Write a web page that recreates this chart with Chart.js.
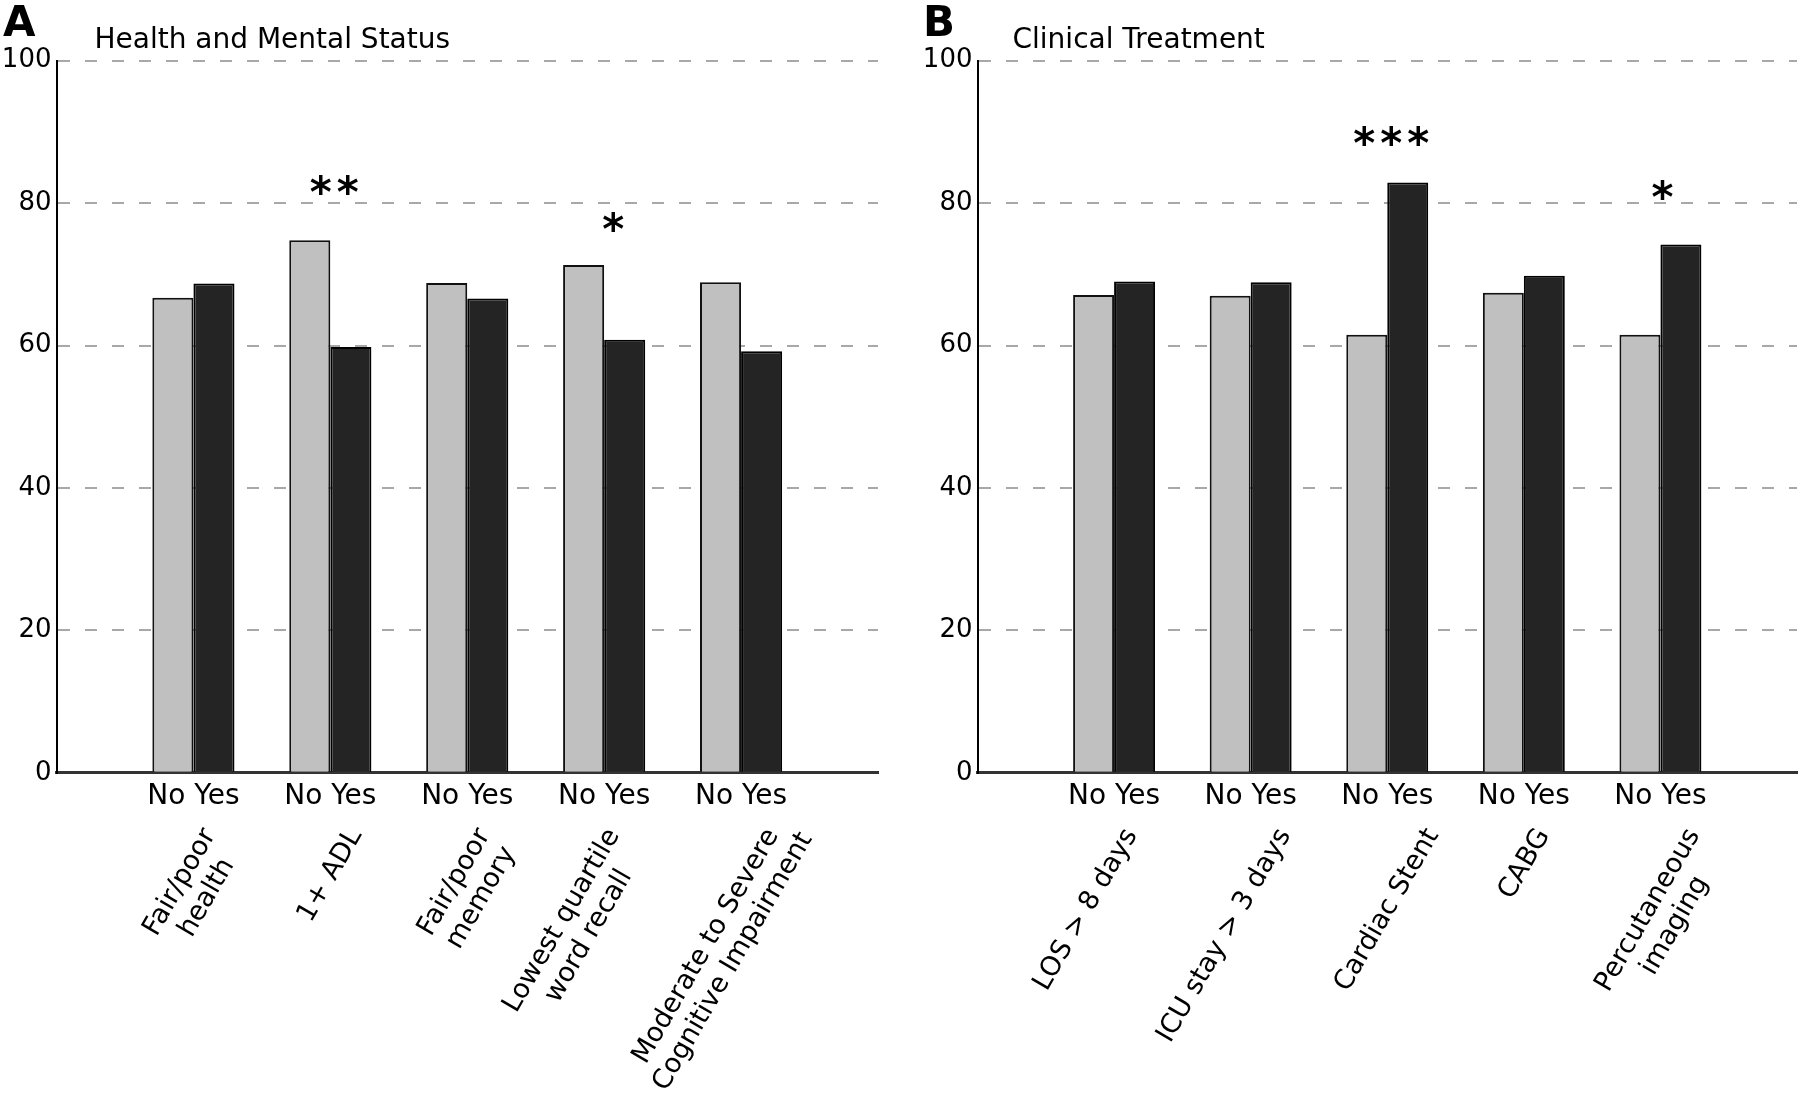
<!DOCTYPE html>
<html><head><meta charset="utf-8">
<script src="https://cdn.jsdelivr.net/npm/chart.js@4.4.1/dist/chart.umd.min.js"></script>
<style>
html,body{margin:0;padding:0;background:#fff;overflow:hidden;width:1800px;height:1111px;position:relative;}
canvas{position:absolute;top:0;}
#cA{left:0px} #cB{left:900px}
</style></head><body>
<canvas id="cA" width="900" height="1111"></canvas>
<canvas id="cB" width="920" height="1111"></canvas>
<script>
// ---- data ----
const seriesNames = ['No', 'Yes'];
const groupLabelsA = ['Fair/poor\nhealth', '1+ ADL', 'Fair/poor\nmemory', 'Lowest quartile\nword recall', 'Moderate to Severe\nCognitive Impairment'];
const noValuesA  = [66.7, 74.8, 68.8, 71.3, 68.9];
const yesValuesA = [68.7, 59.8, 66.6, 60.8, 59.2];
const sigA       = ['', '**', '', '*', ''];
const sigLevelA  = [null, 82.3, null, 77.0, null];
const groupLabelsB = ['LOS > 8 days', 'ICU stay > 3 days', 'Cardiac Stent', 'CABG', 'Percutaneous\nimaging'];
const noValuesB  = [67.1, 67.0, 61.5, 67.4, 61.5];
const yesValuesB = [69.0, 68.9, 82.9, 69.8, 74.2];
const sigB       = ['', '', '***', '', '*'];
const sigLevelB  = [null, null, 89.2, null, 81.5];
const yMin = 0, yMax = 100, yStep = 20;
const panelLetters = ['A', 'B'];
const panelTitles = ['Health and Mental Status', 'Clinical Treatment'];

// ---- drawing ----
const FONT = "'DejaVu Sans', 'Liberation Sans', sans-serif";
function pad(arr, fill) { return [fill, ...arr, fill]; }

const annotPlugin = {
  id: 'annot',
  afterDraw(chart, args, o) {
    const ctx = chart.ctx, xs = chart.scales.x, ys = chart.scales.y;
    ctx.save();
    ctx.fillStyle = '#000';
    ctx.textBaseline = 'alphabetic';
    ctx.textAlign = 'left';
    ctx.font = `bold 42px ${FONT}`;
    ctx.fillText(o.letter, o.letterX, 36);
    ctx.font = `28px ${FONT}`;
    ctx.fillText(o.title, chart.chartArea.left + o.titleDX, 48);

    // significance stars (ink centred on the given level)
    ctx.font = `bold 42px ${FONT}`;
    ctx.textAlign = 'center';
    o.sig.forEach((s, i) => {
      if (!s || o.sigLevel[i] == null) return;
      const cx = xs.getPixelForValue(i + 1) + (o.starDX[i] || 0);
      const py = ys.getPixelForValue(o.sigLevel[i]);
      const n = s.length;
      for (let k = 0; k < n; k++) {
        ctx.fillText('*', cx + (k - (n - 1) / 2) * 27, py + 20);
      }
    });

    // rotated group labels
    ctx.font = `27px ${FONT}`;
    const ang = -Math.PI / 3, lh = 31, inkH = 20;
    const c = Math.cos(ang), sn = Math.sin(ang);
    o.labels.forEach((lab, i) => {
      const lines = lab.split('\n'), n = lines.length;
      const ws = lines.map(l => ctx.measureText(l).width);
      let minX = Infinity, maxX = -Infinity, minY = Infinity;
      lines.forEach((l, j) => {
        const ly = (j - (n - 1) / 2) * lh;
        for (const dx of [-ws[j] / 2, ws[j] / 2]) for (const dy of [-inkH / 2, inkH / 2]) {
          const X = dx * c - (ly + dy) * sn, Y = dx * sn + (ly + dy) * c;
          minX = Math.min(minX, X); maxX = Math.max(maxX, X); minY = Math.min(minY, Y);
        }
      });
      const gx = xs.getPixelForValue(i + 1) + (o.nudge[i] || 0);
      const cx = gx - (minX + maxX) / 2, cy = o.labelTop - minY;
      ctx.save();
      ctx.translate(cx, cy);
      ctx.rotate(ang);
      ctx.textAlign = 'center';
      ctx.textBaseline = 'middle';
      lines.forEach((l, j) => ctx.fillText(l, 0, (j - (n - 1) / 2) * lh));
      ctx.restore();
    });
    ctx.restore();
  }
};

function makePanel(id, idx, labels, noVals, yesVals, sig, sigLevel, axisW, padRight, nudge, starDX) {
  const cats = pad(labels, '');
  const last = cats.length - 1;
  return new Chart(document.getElementById(id), {
    type: 'bar',
    data: {
      labels: cats,
      datasets: [
        { label: seriesNames[0], data: pad(noVals, null), backgroundColor: '#c0c0c0', borderColor: '#111', borderWidth: 2, borderSkipped: 'bottom' },
        { label: seriesNames[1], data: pad(yesVals, null), backgroundColor: '#242424', borderColor: '#000', borderWidth: 2, borderSkipped: 'bottom' }
      ]
    },
    options: {
      responsive: false, animation: false, devicePixelRatio: 1,
      categoryPercentage: 0.6, barPercentage: 1.0,
      layout: { padding: { left: 0, right: padRight, top: 60.7, bottom: 0 } },
      plugins: {
        legend: { display: false }, tooltip: { enabled: false },
        annot: { letter: panelLetters[idx], letterX: idx === 0 ? 3 : 23, title: panelTitles[idx], titleDX: idx === 0 ? 38 : 35,
                 sig, sigLevel, labels, labelTop: 826, nudge, starDX }
      },
      scales: {
        x: {
          type: 'category', offset: false,
          grid: { display: false, drawTicks: false },
          border: { display: true, color: '#333', width: 3 },
          ticks: { autoSkip: false, maxRotation: 0, minRotation: 0, padding: 7, color: '#000',
                   font: { family: FONT, size: 28 },
                   callback: (v, i) => (i === 0 || i === last) ? '' : seriesNames.join(' ') },
          afterFit(s) { s.height = 338.2; }
        },
        y: {
          min: yMin, max: yMax,
          ticks: { stepSize: yStep, padding: 5, color: '#000', font: { family: FONT, size: 26 } },
          grid: { color: ctx => (ctx.tick && ctx.tick.value === 0) ? 'rgba(0,0,0,0)' : '#a8a8a8', lineWidth: 2, drawTicks: false },
          border: { display: true, color: '#000', width: 2, dash: [12, 15] },
          afterFit(s) { s.width = axisW; }
        }
      }
    },
    plugins: [annotPlugin]
  });
}

makePanel('cA', 0, groupLabelsA, noValuesA, yesValuesA, sigA, sigLevelA, 56.5, 22, [-4, 0, 0, -36, -18], [0, 4, 0, 9, 0]);
makePanel('cB', 1, groupLabelsB, noValuesB, yesValuesB, sigB, sigLevelB, 77.5, 23, [-28, -26, 0, 1, -8], [0, 0, 4, 0, 2]);
</script>
</body></html>
